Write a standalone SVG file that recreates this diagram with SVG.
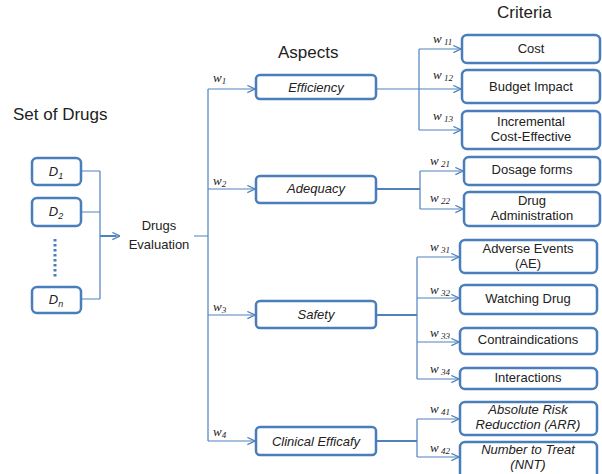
<svg xmlns="http://www.w3.org/2000/svg" width="602" height="474" viewBox="0 0 602 474">
<defs>
<marker id="arr" viewBox="0 0 10 10" refX="9.5" refY="5" markerWidth="9" markerHeight="9" markerUnits="userSpaceOnUse" orient="auto">
<path d="M1,1 L9.5,5 L1,9" fill="none" stroke="#4f81bd" stroke-width="1.3"/>
</marker>
</defs>
<style>
.box{fill:#fff;stroke:#4a7ebb;stroke-width:2.5}
.t{font-family:"Liberation Sans",Arial,sans-serif;font-size:13px;fill:#222;text-anchor:middle}
.i{font-style:italic}
.h{font-family:"Liberation Sans",Arial,sans-serif;font-size:17px;fill:#222}
.w{font-family:"Liberation Serif","Times New Roman",serif;font-style:italic;font-size:13px;fill:#222}
.w tspan{font-size:9px}
.c{fill:none;stroke:#4f81bd;stroke-width:1.2}
.ca{fill:none;stroke:#4f81bd;stroke-width:1.2;marker-end:url(#arr)}
.ct{fill:none;stroke:#4f81bd;stroke-width:2}
</style>
<rect width="602" height="474" fill="#fff"/>
<text class="h" x="13" y="120">Set of Drugs</text>
<text class="h" x="278" y="58">Aspects</text>
<text class="h" x="497" y="18">Criteria</text>

<g id="connectors">
<path class="c" d="M81,171 H100 M81,212 H100 M81,299 H100 M100,171 V299"/>
<path class="ct" d="M100,236 H116"/>
<path class="ca" d="M114,236 H120"/>
<path class="c" d="M194,236 H208 M208,89 V441"/>
<path class="ca" d="M208,89 H255"/>
<path class="ca" d="M208,189 H255"/>
<path class="ca" d="M208,315 H255"/>
<path class="ca" d="M208,441 H255"/>
<path class="c" d="M376,89 H419 M419,49 V130"/>
<path class="ca" d="M419,49 H461"/>
<path class="ca" d="M419,89 H461"/>
<path class="ca" d="M419,130 H461"/>
<path class="ct" d="M376,189 H420"/>
<path class="c" d="M420,171 V209"/>
<path class="ca" d="M420,171 H463"/>
<path class="ca" d="M420,209 H463"/>
<path class="ct" d="M376,315 H417"/>
<path class="c" d="M417,257 V379"/>
<path class="ca" d="M417,257 H459"/>
<path class="ca" d="M417,298 H459"/>
<path class="ca" d="M417,342 H459"/>
<path class="ca" d="M417,379 H459"/>
<path class="ct" d="M376,441 H417"/>
<path class="c" d="M417,419 V457"/>
<path class="ca" d="M417,419 H459"/>
<path class="ca" d="M417,457 H459"/>
<line x1="55" y1="239" x2="55" y2="278" stroke="#4a7ebb" stroke-width="3" stroke-dasharray="2.5,2.5"/>
</g>

<g id="weights">
<text class="w" x="213" y="82">w<tspan dy="2">1</tspan></text>
<text class="w" x="213" y="185">w<tspan dy="2">2</tspan></text>
<text class="w" x="213" y="311">w<tspan dy="2">3</tspan></text>
<text class="w" x="213" y="436">w<tspan dy="2">4</tspan></text>
<text class="w" x="433" y="43">w<tspan dy="2"> 11</tspan></text>
<text class="w" x="433" y="79">w<tspan dy="2"> 12</tspan></text>
<text class="w" x="433" y="120">w<tspan dy="2"> 13</tspan></text>
<text class="w" x="430" y="165">w<tspan dy="2"> 21</tspan></text>
<text class="w" x="430" y="202">w<tspan dy="2"> 22</tspan></text>
<text class="w" x="430" y="251">w<tspan dy="2"> 31</tspan></text>
<text class="w" x="430" y="294">w<tspan dy="2"> 32</tspan></text>
<text class="w" x="430" y="337">w<tspan dy="2"> 33</tspan></text>
<text class="w" x="430" y="373">w<tspan dy="2"> 34</tspan></text>
<text class="w" x="430" y="413">w<tspan dy="2"> 41</tspan></text>
<text class="w" x="430" y="452">w<tspan dy="2"> 42</tspan></text>
</g>

<g id="d1"><rect class="box" x="32" y="158" width="49" height="27" rx="5"/><text class="t i" x="56" y="176">D<tspan font-size="9" dy="3">1</tspan></text></g>
<g id="d2"><rect class="box" x="32" y="198" width="49" height="28" rx="5"/><text class="t i" x="56" y="216">D<tspan font-size="9" dy="3">2</tspan></text></g>
<g id="dn"><rect class="box" x="32" y="287" width="49" height="26" rx="5"/><text class="t i" x="56" y="304">D<tspan font-size="9" dy="3">n</tspan></text></g>
<g id="eval"><text class="t" x="159" y="230" font-size="14">Drugs</text><text class="t" x="159" y="249" font-size="14">Evaluation</text></g>

<g id="efficiency"><rect class="box" x="256" y="75" width="120" height="24" rx="4"/><text class="t i" x="316" y="92">Efficiency</text></g>
<g id="adequacy"><rect class="box" x="256" y="176" width="120" height="27" rx="4"/><text class="t i" x="316" y="193">Adequacy</text></g>
<g id="safety"><rect class="box" x="256" y="301" width="120" height="27" rx="4"/><text class="t i" x="316" y="319">Safety</text></g>
<g id="clinical"><rect class="box" x="256" y="427" width="120" height="28" rx="4"/><text class="t i" x="316" y="446">Clinical Efficafy</text></g>

<g id="cost"><rect class="box" x="462" y="35" width="138" height="28" rx="5"/><text class="t" x="531" y="53">Cost</text></g>
<g id="budget"><rect class="box" x="462" y="70" width="138" height="33" rx="5"/><text class="t" x="531" y="91">Budget Impact</text></g>
<g id="incremental"><rect class="box" x="462" y="111" width="138" height="38" rx="5"/><text class="t" x="531" y="126">Incremental</text><text class="t" x="531" y="141">Cost-Effective</text></g>
<g id="dosage"><rect class="box" x="464" y="157" width="136" height="28" rx="5"/><text class="t" x="532" y="174">Dosage forms</text></g>
<g id="admin"><rect class="box" x="464" y="192" width="136" height="34" rx="5"/><text class="t" x="532" y="205">Drug</text><text class="t" x="532" y="220">Administration</text></g>
<g id="adverse"><rect class="box" x="460" y="240" width="137" height="33" rx="5"/><text class="t" x="528" y="253">Adverse Events</text><text class="t" x="528" y="268">(AE)</text></g>
<g id="watching"><rect class="box" x="460" y="285" width="137" height="29" rx="5"/><text class="t" x="528" y="303">Watching Drug</text></g>
<g id="contra"><rect class="box" x="460" y="328" width="137" height="26" rx="5"/><text class="t" x="528" y="344">Contraindications</text></g>
<g id="interactions"><rect class="box" x="460" y="368" width="137" height="21" rx="5"/><text class="t" x="528" y="382">Interactions</text></g>
<g id="arr-node"><rect class="box" x="460" y="402" width="137" height="33" rx="5"/><text class="t i" x="528" y="414">Absolute Risk</text><text class="t i" x="528" y="429">Reducction (ARR)</text></g>
<g id="nnt"><rect class="box" x="460" y="442" width="137" height="40" rx="5"/><text class="t i" x="528" y="454">Number to Treat</text><text class="t i" x="528" y="469">(NNT)</text></g>
</svg>
